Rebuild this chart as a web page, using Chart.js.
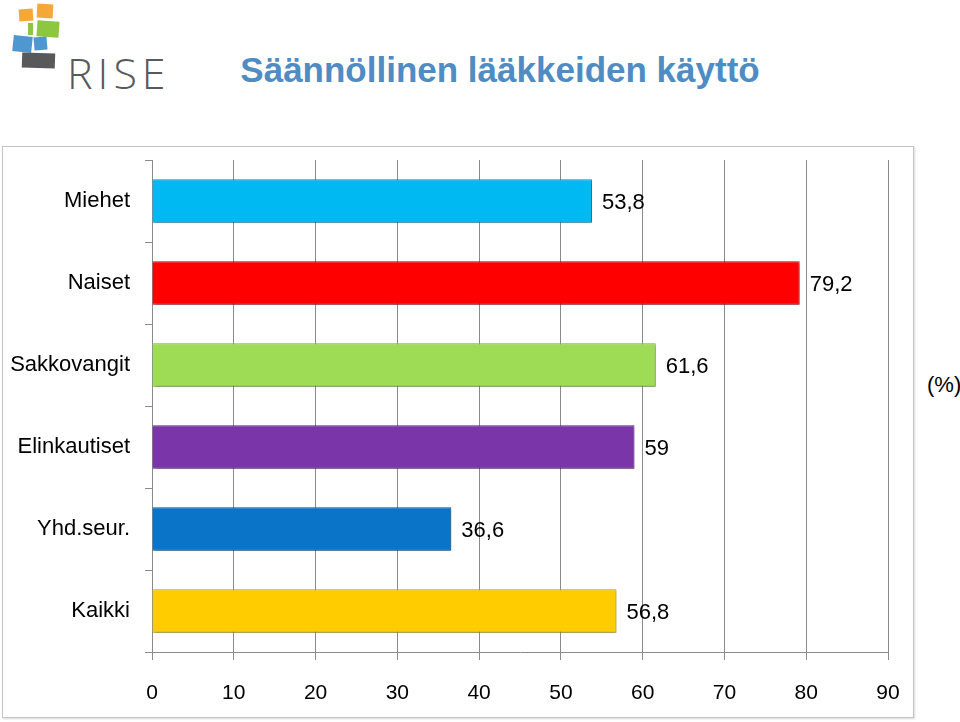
<!DOCTYPE html>
<html>
<head>
<meta charset="utf-8">
<script src="https://cdn.jsdelivr.net/npm/chart.js@4"></script>
<style>
  body { margin: 0; width: 960px; height: 722px; background: #fff; position: relative; overflow: hidden;
         font-family: 'Liberation Sans', Arial, sans-serif; }
  #title { position: absolute; left: 160px; width: 680px; top: 50px; text-align: center;
           font-size: 35px; font-weight: bold; color: #4f8cc4; }
  #box { position: absolute; left: 2px; top: 146px; width: 910px; height: 570px;
         border: 1px solid #c4c4c4; box-shadow: 1px 1px 2px rgba(0,0,0,0.15); }
  #pct { position: absolute; left: 927px; top: 372px; font-size: 22px; color: #000; }
  .sq { position: absolute; }
  #rise { position: absolute; left: 67px; top: 43px; font-size: 43px; color: #58595b;
          font-family: 'Open Sans', sans-serif; font-weight: 300; letter-spacing: 5px; }
</style>
</head>
<body>
<div class="sq" style="left:19px;top:9px;width:14px;height:12px;background:#f5a83a;transform:rotate(-4deg)"></div>
<div class="sq" style="left:37px;top:4px;width:16px;height:14px;background:#f5a83a;transform:rotate(3deg)"></div>
<div class="sq" style="left:28px;top:23px;width:5px;height:12px;background:#8dc63f"></div>
<div class="sq" style="left:37px;top:21px;width:22px;height:16px;background:#8dc63f;transform:rotate(4deg)"></div>
<div class="sq" style="left:13px;top:36px;width:19px;height:16px;background:#4d98d0;transform:rotate(6deg)"></div>
<div class="sq" style="left:34px;top:37px;width:13px;height:13px;background:#4d98d0;transform:rotate(-5deg)"></div>
<div class="sq" style="left:22px;top:53px;width:33px;height:15px;background:#58595b;transform:rotate(2deg)"></div>
<div id="rise">RISE</div>
<div id="title">Säännöllinen lääkkeiden käyttö</div>
<div id="box"><canvas id="c" width="910" height="570"></canvas></div>
<div id="pct">(%)</div>
<script>
const categories = ['Miehet', 'Naiset', 'Sakkovangit', 'Elinkautiset', 'Yhd.seur.', 'Kaikki'];
const values = [53.8, 79.2, 61.6, 59, 36.6, 56.8];
const barColors = ['#00b8f2', '#ff0000', '#9edc55', '#7a35a8', '#0a74c8', '#ffcc00'];
const xMin = 0;
const xMax = 90;
const xStep = 10;

function shade(hex, amt) {
  const n = parseInt(hex.slice(1), 16);
  let r = (n >> 16) & 255, g = (n >> 8) & 255, b = n & 255;
  const f = v => Math.max(0, Math.min(255, Math.round(amt > 0 ? v + (255 - v) * amt : v * (1 + amt))));
  return 'rgb(' + f(r) + ',' + f(g) + ',' + f(b) + ')';
}

function barFill(c) {
  const base = barColors[c.dataIndex];
  const el = c.element;
  if (!el) return base;
  const p = el.getProps(['y', 'height'], true);
  if (!isFinite(p.y) || !p.height) return base;
  const g = c.chart.ctx.createLinearGradient(0, p.y - p.height / 2, 0, p.y + p.height / 2);
  g.addColorStop(0, shade(base, 0.35));
  g.addColorStop(0.12, base);
  g.addColorStop(0.82, base);
  g.addColorStop(1, shade(base, -0.25));
  return g;
}

const valueLabels = {
  id: 'valueLabels',
  afterDatasetsDraw(chart) {
    const ctx = chart.ctx;
    const meta = chart.getDatasetMeta(0);
    ctx.save();
    ctx.font = '22px "Liberation Sans", Arial, sans-serif';
    ctx.fillStyle = '#000';
    ctx.textBaseline = 'middle';
    meta.data.forEach((bar, i) => {
      ctx.fillText(String(values[i]).replace('.', ','), bar.x + 10, bar.y + 2);
    });
    ctx.restore();
  }
};

const barShadow = {
  id: 'barShadow',
  beforeDatasetsDraw(chart) {
    const ctx = chart.ctx;
    ctx.save();
    ctx.shadowColor = 'rgba(0,0,0,0.35)';
    ctx.shadowBlur = 3;
    ctx.shadowOffsetX = 1;
    ctx.shadowOffsetY = 2;
  },
  afterDatasetsDraw(chart) {
    chart.ctx.restore();
  }
};

new Chart(document.getElementById('c'), {
  type: 'bar',
  data: {
    labels: categories,
    datasets: [{
      data: values,
      backgroundColor: barFill,
      borderColor: barColors.map(col => shade(col, -0.2)),
      borderWidth: 1,
      categoryPercentage: 1,
      barPercentage: 0.53
    }]
  },
  options: {
    indexAxis: 'y',
    responsive: false,
    animation: false,
    layout: { padding: { top: 13, right: 25, left: 0, bottom: 0 } },
    plugins: { legend: { display: false }, tooltip: { enabled: false } },
    scales: {
      x: {
        min: xMin, max: xMax,
        ticks: { stepSize: xStep, color: '#000', padding: 21,
                 font: { size: 21, family: '"Liberation Sans", Arial, sans-serif' } },
        grid: { color: '#8a8a8a', lineWidth: 1, tickLength: 8 },
        border: { color: '#8a8a8a' },
        afterFit(s) { s.height = 65; s.paddingLeft = 0; s.paddingRight = 0; }
      },
      y: {
        ticks: { color: '#000', padding: 15,
                 font: { size: 22, family: '"Liberation Sans", Arial, sans-serif' } },
        grid: { drawOnChartArea: false, color: '#8a8a8a', tickLength: 7, offset: true },
        border: { color: '#8a8a8a' },
        afterFit(s) { s.width = 149; s.paddingTop = 0; s.paddingBottom = 0; }
      }
    }
  },
  plugins: [barShadow, valueLabels]
});
</script>
</body>
</html>
